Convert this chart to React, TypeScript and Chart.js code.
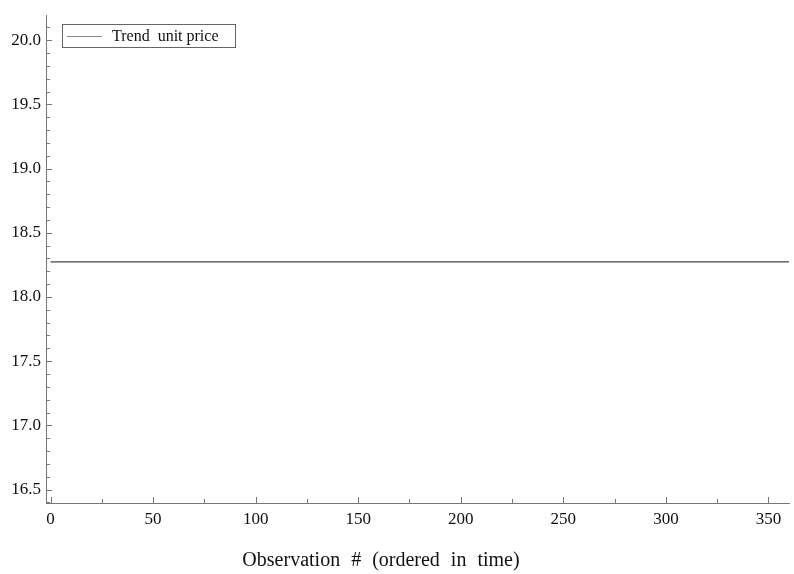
import React, { useEffect, useRef } from "react";
import { Chart, registerables } from "chart.js";

Chart.register(...registerables);

const seriesLabel = "Trend  unit price";
const observations = [0, 360];
const trendPrice = [18.273, 18.273];
const xMajorTicks = [0, 50, 100, 150, 200, 250, 300, 350];
const xMinorTicks = [25, 75, 125, 175, 225, 275, 325];
const yMajorTicks = [16.5, 17.0, 17.5, 18.0, 18.5, 19.0, 19.5, 20.0];
const xTitleWords = ["Observation", "#", "(ordered", "in", "time)"];

const FONT = "'Liberation Serif', 'Times New Roman', serif";

const decorPlugin = {
  id: "decor",
  afterDraw(chart: any) {
    const ctx = chart.ctx;
    const xs = chart.scales.x;
    const ys = chart.scales.y;
    const area = chart.chartArea;
    ctx.save();
    ctx.strokeStyle = "#777";
    ctx.lineWidth = 1;
    ctx.beginPath();
    for (const v of xMajorTicks) {
      const px = Math.round(xs.getPixelForValue(v)) + 0.5;
      ctx.moveTo(px, area.bottom);
      ctx.lineTo(px, area.bottom - 6);
    }
    for (const v of xMinorTicks) {
      const px = Math.round(xs.getPixelForValue(v)) + 0.5;
      ctx.moveTo(px, area.bottom);
      ctx.lineTo(px, area.bottom - 4);
    }
    for (let i = 164; i <= 202; i++) {
      const v = i / 10;
      if (v < ys.min || v > ys.max) continue;
      const py = Math.round(ys.getPixelForValue(v)) + 0.5;
      const major = i % 5 === 0;
      ctx.moveTo(area.left, py);
      ctx.lineTo(area.left + (major ? 6 : 4), py);
    }
    ctx.stroke();

    // legend
    const lx = 62, ly = 24, lw = 173, lh = 23;
    ctx.strokeStyle = "#666";
    ctx.strokeRect(lx + 0.5, ly + 0.5, lw, lh);
    ctx.strokeStyle = "#888";
    ctx.beginPath();
    ctx.moveTo(67, ly + 12.5);
    ctx.lineTo(102, ly + 12.5);
    ctx.stroke();
    ctx.fillStyle = "#111";
    ctx.font = `16px ${FONT}`;
    ctx.textBaseline = "middle";
    ctx.textAlign = "left";
    ctx.fillText(chart.data.datasets[0].label, 112, ly + 12.5);

    // x title, with wide word spacing
    ctx.font = `20px ${FONT}`;
    ctx.textBaseline = "alphabetic";
    const gap = 11;
    const widths = xTitleWords.map((w) => ctx.measureText(w).width);
    const total = widths.reduce((a, b) => a + b, 0) + gap * (xTitleWords.length - 1);
    let x = 381 - total / 2;
    xTitleWords.forEach((w, i) => {
      ctx.fillText(w, x, 566);
      x += widths[i] + gap;
    });
    ctx.restore();
  },
};

export default function App() {
  const ref = useRef<HTMLCanvasElement>(null);
  useEffect(() => {
    document.body.style.margin = "0";
    const chart = new Chart(ref.current!, {
      type: "line",
      data: {
        datasets: [
          {
            label: seriesLabel,
            data: observations.map((x, i) => ({ x, y: trendPrice[i] })),
            borderColor: "#444",
            borderWidth: 1.2,
            pointRadius: 0,
            fill: false,
          },
        ],
      },
      options: {
        animation: false,
        responsive: false,
        layout: { padding: { top: 15, right: 5, left: 0, bottom: 0 } },
        plugins: { legend: { display: false }, tooltip: { enabled: false } },
        scales: {
          x: {
            type: "linear",
            min: -2.2,
            max: 360,
            afterBuildTicks: (s: any) => {
              s.ticks = xMajorTicks.map((v) => ({ value: v }));
            },
            afterFit: (s: any) => {
              s.height = 71;
            },
            grid: { display: false, drawTicks: false },
            border: { display: true, color: "#777", width: 1 },
            ticks: {
              padding: 6,
              color: "#111",
              font: { family: FONT, size: 17 },
              maxRotation: 0,
              autoSkip: false,
            },
          },
          y: {
            type: "linear",
            min: 16.395,
            max: 20.195,
            afterBuildTicks: (s: any) => {
              s.ticks = yMajorTicks.map((v) => ({ value: v }));
            },
            afterFit: (s: any) => {
              s.width = 46;
            },
            grid: { display: false, drawTicks: false },
            border: { display: true, color: "#777", width: 1 },
            ticks: {
              padding: 5,
              color: "#111",
              font: { family: FONT, size: 17 },
              callback: (v: any) => Number(v).toFixed(1),
            },
          },
        },
      },
      plugins: [decorPlugin],
    });
    return () => chart.destroy();
  }, []);
  return (
    <div style={{ position: "absolute", left: 0, top: 0, width: 794, height: 574, background: "#fff" }}>
      <canvas ref={ref} width={794} height={574} />
    </div>
  );
}
